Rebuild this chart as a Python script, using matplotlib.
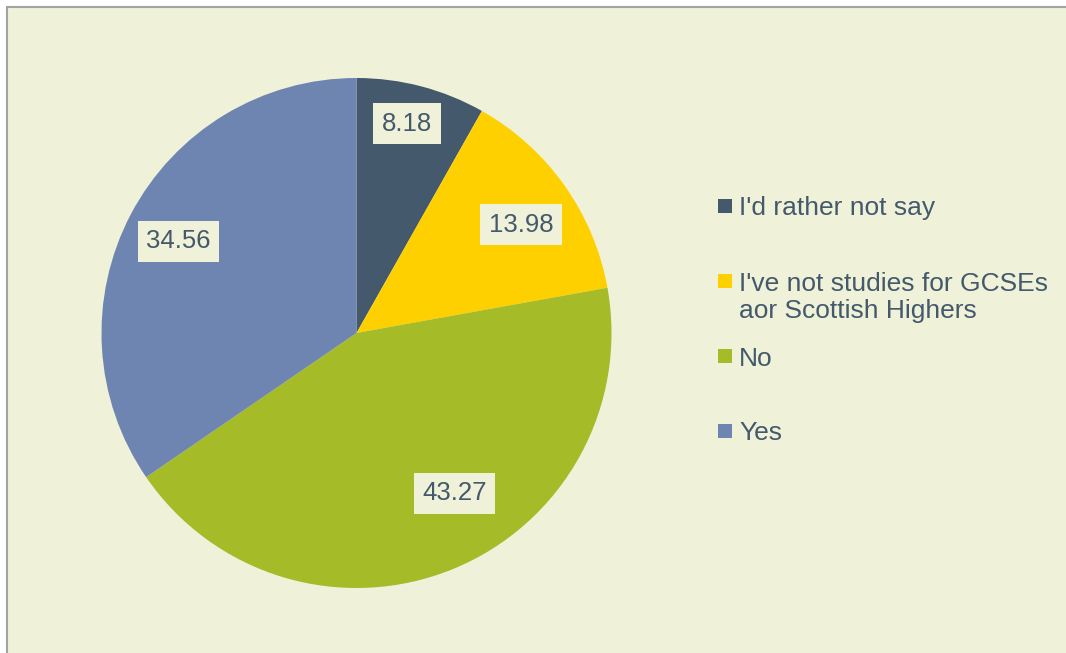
import matplotlib
matplotlib.use("Agg")
import matplotlib.pyplot as plt
from matplotlib.patches import Rectangle

plt.rcParams['font.family'] = ['Liberation Sans', 'DejaVu Sans']

# data
labels = ["I'd rather not say", "I've not studies for GCSEs\naor Scottish Highers", "No", "Yes"]
values = [8.18, 13.98, 43.27, 34.56]
colors = ["#44596B", "#FFD000", "#A5BB28", "#6E85B2"]

bg = "#EFF1D9"
txt = "#44596B"

W, H = 1066, 653
fig = plt.figure(figsize=(W / 100, H / 100), dpi=100, facecolor="white")

# chart area box
fig.patches.append(Rectangle((7 / W, -0.1), 2, 1 - 7 / H + 0.1,
                             transform=fig.transFigure, facecolor=bg,
                             edgecolor="#A0A2A8", linewidth=1.5, zorder=-5))

# pie axes: center (356.5, 333), radius 255 px
cx, cy, r = 356.5, 333, 255
ax = fig.add_axes([(cx - r) / W, (H - cy - r) / H, 2 * r / W, 2 * r / H])
ax.set_zorder(1)
ax.set_facecolor("none")

total = sum(values)
wedges, texts, autotexts = ax.pie(
    values, colors=colors, startangle=90, counterclock=False,
    autopct=lambda p: "%.2f" % (p * total / 100), pctdistance=0.79,
    wedgeprops=dict(linewidth=0))

# Excel "best fit" label spots (pie radius units)
label_pos = [(0.198, 0.820), (0.645, 0.424), (0.384, -0.629), (-0.698, 0.359)]
for t, pos in zip(autotexts, label_pos):
    t.set_position(pos)
    t.set_fontsize(18.5)
    t.set_color(txt)
    t.set_bbox(dict(boxstyle="square,pad=0.33", facecolor=bg, edgecolor="none"))
ax.set_xlim(-1, 1)
ax.set_ylim(-1, 1)
ax.set_aspect("equal")
ax.axis("off")

# legend drawn by hand (Excel style spacing), marker centre y in px
legend_y = [206, 281, 356, 431]
sq = 14
line_h = 28
for lab, c, y in zip(labels, colors, legend_y):
    fig.patches.append(Rectangle((718 / W, 1 - (y + sq / 2) / H), sq / W, sq / H,
                                 transform=fig.transFigure, facecolor=c,
                                 edgecolor="none", zorder=2))
    # baseline of the last line
    base = y + 9.5 + lab.count("\n") * line_h
    fig.text(739 / W, 1 - base / H, lab, fontsize=19, color=txt,
             ha="left", va="baseline", linespacing=1.17)

fig.savefig("out.png", dpi=100, facecolor="white")
